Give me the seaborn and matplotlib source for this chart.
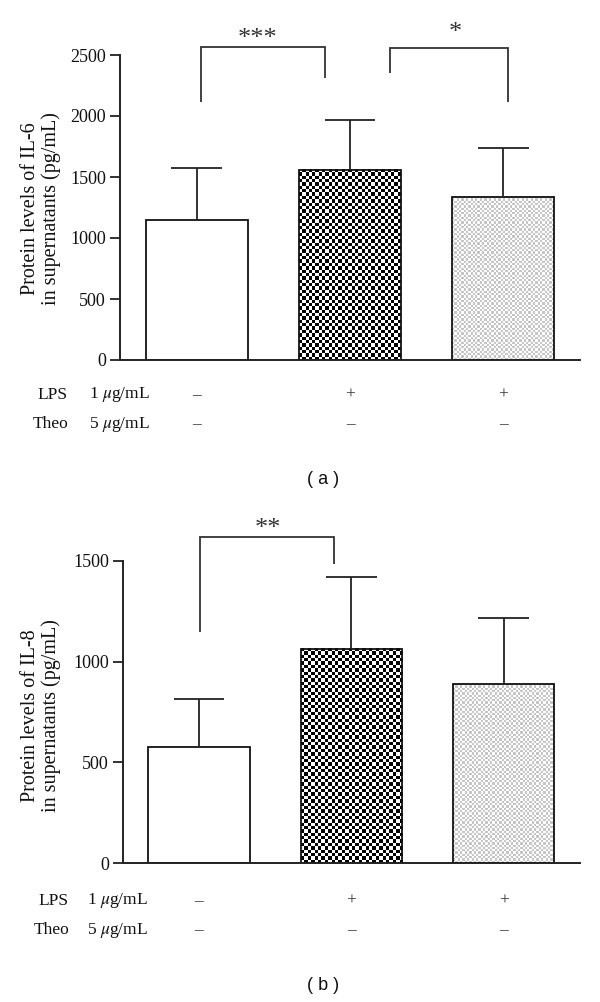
import numpy as np
import matplotlib
matplotlib.use("Agg")
import matplotlib.pyplot as plt
import seaborn as sns

# ---------------- data ----------------
groups = ["Control", "LPS", "LPS+Theo"]
il6_mean = [1150, 1560, 1340]
il6_err = [425, 405, 395]
il8_mean = [578, 1061, 889]
il8_err = [235, 360, 329]
lps_signs = ["–", "+", "+"]
theo_signs = ["–", "–", "–"]
il6_yticks = [0, 500, 1000, 1500, 2000, 2500]
il8_yticks = [0, 500, 1000, 1500]
# significance brackets: (x_left, y_left_bottom, x_right, y_right_bottom, y_top, label)
il6_sig = [(0.03, 2112, 0.84, 2314, 2568, "***"),
           (1.26, 2355, 2.03, 2112, 2555, "*")]
il8_sig = [(0.01, 1145, 0.885, 1484, 1619, "**")]
# label placement (x in data units, offset above bracket in px)
il6_sig_pos = [(0.40, 10.5), (1.69, 17.5)]
il8_sig_pos = [(0.456, 10.5)]

sns.set_theme(style="white")
plt.rcParams["font.family"] = ["Liberation Serif", "DejaVu Serif"]
plt.rcParams["mathtext.fontset"] = "stix"

W, H = 600, 1002
fig = plt.figure(figsize=(W / 100, H / 100), dpi=100)


def px_rect(l, t, r, b):
    return [l / W, 1 - b / H, (r - l) / W, (b - t) / H]


def checker(ax, patch, cell_px, c1, c2):
    x0, y0 = patch.get_x(), patch.get_y()
    w, h = patch.get_width(), patch.get_height()
    p0 = ax.transData.transform((x0, y0))
    p1 = ax.transData.transform((x0 + w, y0 + h))
    nc = max(1, int(round(abs(p1[0] - p0[0]) / cell_px)))
    nr = max(1, int(round(abs(p1[1] - p0[1]) / cell_px)))
    yy, xx = np.mgrid[0:nr, 0:nc]
    arr = ((xx + yy) % 2).astype(float)
    cmap = matplotlib.colors.ListedColormap([c1, c2])
    ax.imshow(arr, extent=(x0, x0 + w, y0, y0 + h), origin="lower",
              cmap=cmap, interpolation="nearest", aspect="auto", zorder=0.5,
              vmin=0, vmax=1)
    patch.set_facecolor("none")


def panel(rect, means, errs, yticks, ylabel, sig, sig_pos, tag, tag_y, row_y,
          name_x, conc_x):
    ax = fig.add_axes(rect)
    sns.barplot(x=groups, y=means, ax=ax, color="white", edgecolor="#111111",
                linewidth=1.3, width=0.665, errorbar=None, saturation=1)
    ax.set_xlim(-0.5, 2.5)
    ax.set_ylim(0, yticks[-1])
    ax.set_yticks(yticks)
    ax.set_yticklabels([str(t) for t in yticks], fontsize=13)
    ax.set_xticks([])
    ax.set_xlabel("")
    for s in ["top", "right"]:
        ax.spines[s].set_visible(False)
    for s in ["left", "bottom"]:
        ax.spines[s].set_color("#222222")
        ax.spines[s].set_linewidth(1.4)
    ax.tick_params(axis="y", length=7, width=1.3, color="#222222", pad=3,
                   left=True, labelcolor="#111111")
    patches = ax.patches
    # error bars (upper only)
    for i, p in enumerate(patches):
        xc = p.get_x() + p.get_width() / 2
        top = means[i] + errs[i]
        ax.vlines(xc, means[i], top, color="#222222", lw=1.3, zorder=3)
        ax.hlines(top, xc - p.get_width() / 4, xc + p.get_width() / 4,
                  color="#222222", lw=1.3, zorder=3)
    checker(ax, patches[1], 3.33, "white", "black")
    checker(ax, patches[2], 2.3, "white", "#c6c6c6")
    # significance brackets
    for (xl, yl, xr, yr, yt, lab), (lx, off) in zip(sig, sig_pos):
        ax.plot([xl, xl, xr, xr], [yl, yt, yt, yr], color="#333333", lw=1.3,
                clip_on=False, solid_capstyle="butt", solid_joinstyle="miter")
        ax.annotate(lab, xy=(lx, yt), xycoords="data",
                    xytext=(0, off * 0.72), textcoords="offset points",
                    ha="center", va="center_baseline", fontsize=19,
                    color="#333333", annotation_clip=False)
    # condition rows
    blend = matplotlib.transforms.blended_transform_factory(ax.transData,
                                                            fig.transFigure)
    for j, (name, conc, signs) in enumerate([("LPS", "1 $\\mu$g/mL", lps_signs),
                                             ("Theo", "5 $\\mu$g/mL", theo_signs)]):
        yf = 1 - row_y[j] / H
        fig.text(name_x / W, yf, name, ha="right", va="center", fontsize=12.5,
                 color="#111111")
        fig.text(conc_x / W, yf, conc, ha="right", va="center", fontsize=12.5,
                 color="#111111")
        for i, sgn in enumerate(signs):
            ax.text(i, yf, sgn, transform=blend, ha="center", va="center",
                    fontsize=12.5, color="#333333")
    fig.text(41 / W, 1 - ylabel[1] / H, ylabel[0], rotation=90, ha="center",
             va="center", multialignment="center", fontsize=14.5,
             linespacing=1.15, color="#111111")
    fig.text(323 / W, 1 - tag_y / H, tag, ha="center", va="center",
             fontsize=13, family=["Liberation Sans", "DejaVu Sans"],
             color="#111111")
    return ax


panel(px_rect(120, 55, 580, 360), il6_mean, il6_err, il6_yticks,
      ("Protein levels of IL-6\nin supernatants (pg/mL)", 209), il6_sig,
      il6_sig_pos, "( a )", 479, [395, 424], 68, 150)
panel(px_rect(122.7, 560.7, 580, 863.3), il8_mean, il8_err, il8_yticks,
      ("Protein levels of IL-8\nin supernatants (pg/mL)", 716), il8_sig,
      il8_sig_pos, "( b )", 985, [901, 930], 69, 148)

fig.savefig("out.png", dpi=100, facecolor="white")
